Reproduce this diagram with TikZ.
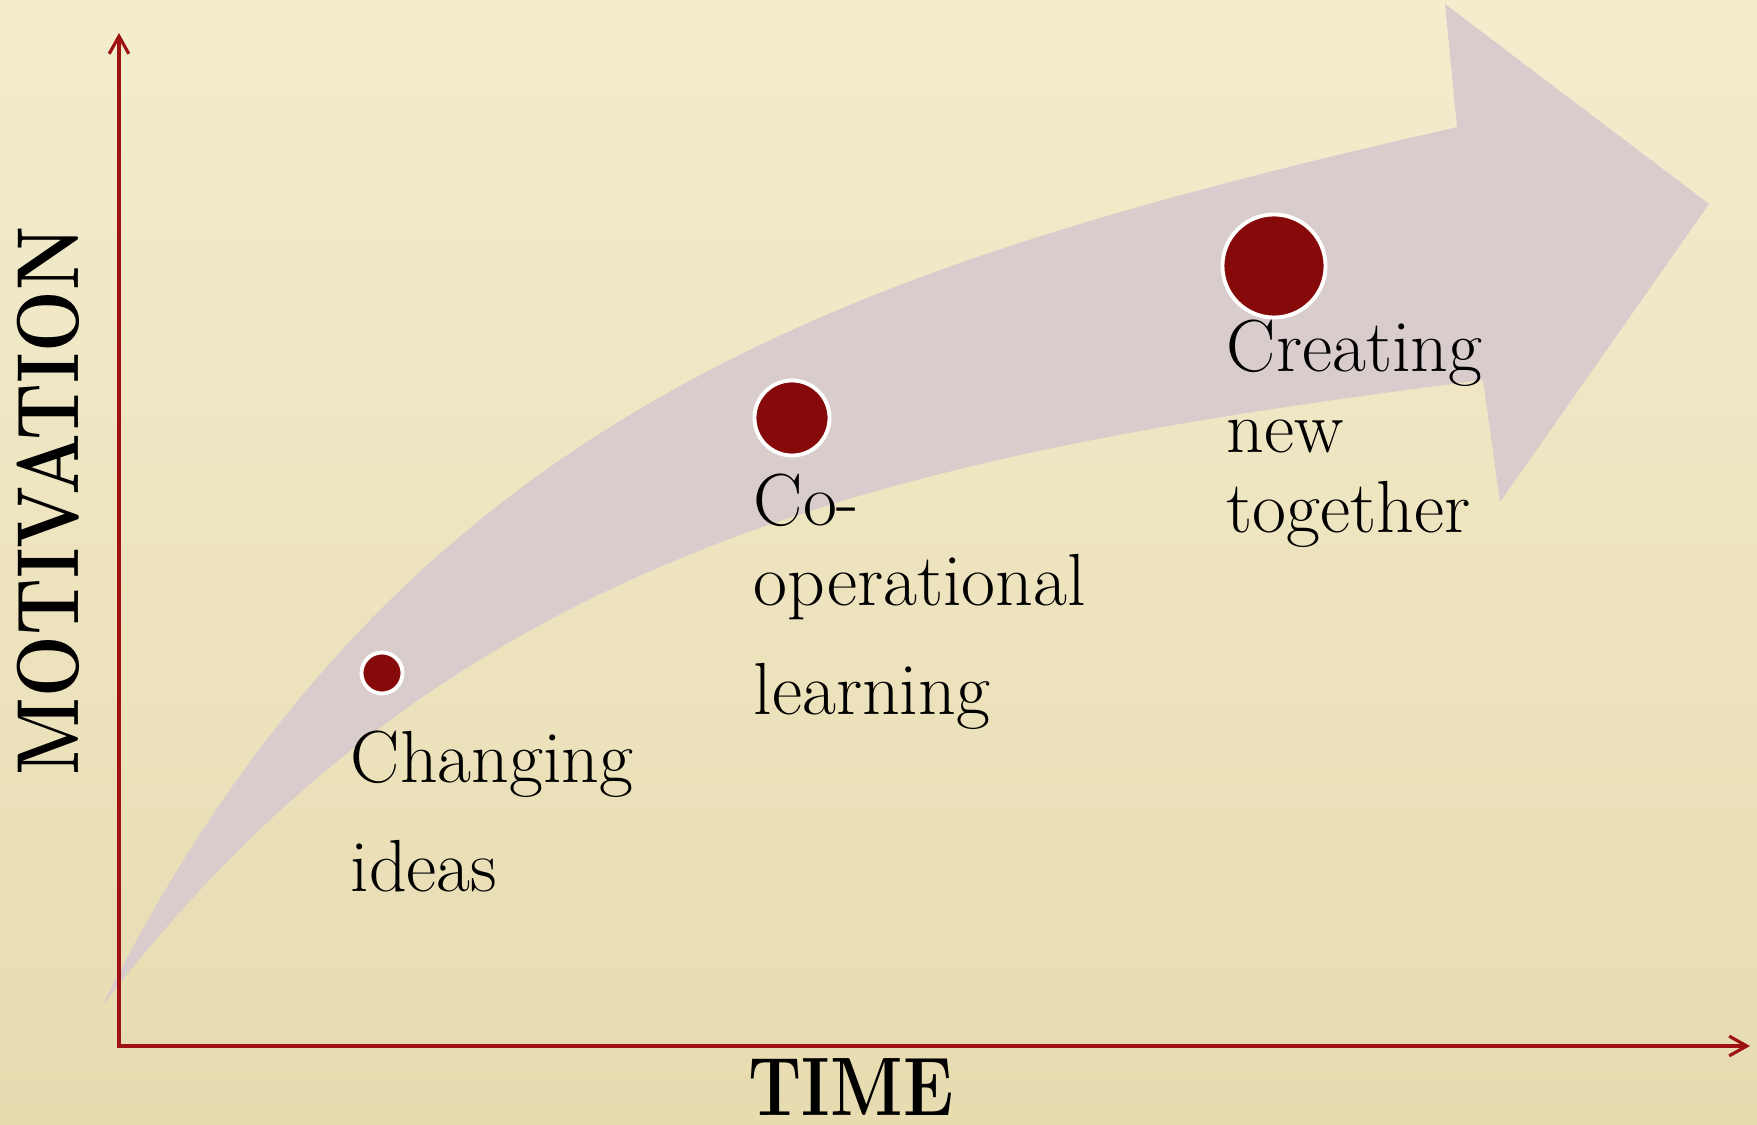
\documentclass[tikz,border=0pt]{standalone}
\usepackage{fontspec}
\usetikzlibrary{arrows.meta}

\definecolor{paper}{HTML}{F3EDCE}
\definecolor{paperdark}{HTML}{E7DBB0}
\definecolor{band}{HTML}{D9CCCD}
\definecolor{dotred}{HTML}{870A0A}
\definecolor{axisred}{HTML}{9E1212}

\tikzset{
  stage/.style={circle, fill=dotred, draw=white, line width=1.1pt, inner sep=0pt},
  stagetext/.style={anchor=base west, inner sep=0pt, align=left,
    font=\fontsize{21}{23}\selectfont},
  axistitle/.style={anchor=base, inner sep=0pt, font=\bfseries\fontsize{25}{30}\selectfont},
  axisline/.style={draw=axisred, line width=0.9pt,
    {Straight Barb[length=5pt,width=5.6pt]}-{Straight Barb[length=5pt,width=5.6pt]}}
}

\begin{document}
\begin{tikzpicture}[x=0.01cm, y=-0.01cm]
  % 背景
  \fill[top color=paper, bottom color=paperdark] (0,0) rectangle (1757,1125);
  \useasboundingbox (0,0) rectangle (1757,1125);

  % 矢印
  \fill[band] (102,1006) .. controls (402,406) and (857,265) .. (1457,127)
    -- (1445,4) -- (1709,204) -- (1500,502) -- (1483,380)
    .. controls (883,456) and (452,551) .. (102,1006) -- cycle;

  % 軸
  \coordinate (origin) at (119,1046);
  \coordinate (ytop) at (119,33);
  \coordinate (xend) at (1750,1046);
  \draw[axisline] (ytop) -- (origin) -- (xend);

  % 円
  \node[stage, minimum size=0.41cm] (dot1) at (382,673) {};
  \node[stage, minimum size=0.75cm] (dot2) at (792,418) {};
  \node[stage, minimum size=1.03cm] (dot3) at (1274,266) {};

  % 文字 (最後の行のベースライン)
  \node[stagetext] (txt1) at (350,892) {Changing\\[8pt]ideas};
  \node[stagetext] (txt2) at (753,715) {Co-\\operational\\[8pt]learning};
  \node[stagetext] (txt3) at (1226,533) {Creating\\new\\together};

  \node[axistitle, rotate=90] (ylab) at (78,501) {\scalebox{0.83}[1]{MOTIVATION}};
  \node[axistitle, font=\bfseries\fontsize{23.6}{28}\selectfont] (xlab) at (851,1115)
    {\scalebox{0.82}[1]{TIME}};
\end{tikzpicture}
\end{document}
